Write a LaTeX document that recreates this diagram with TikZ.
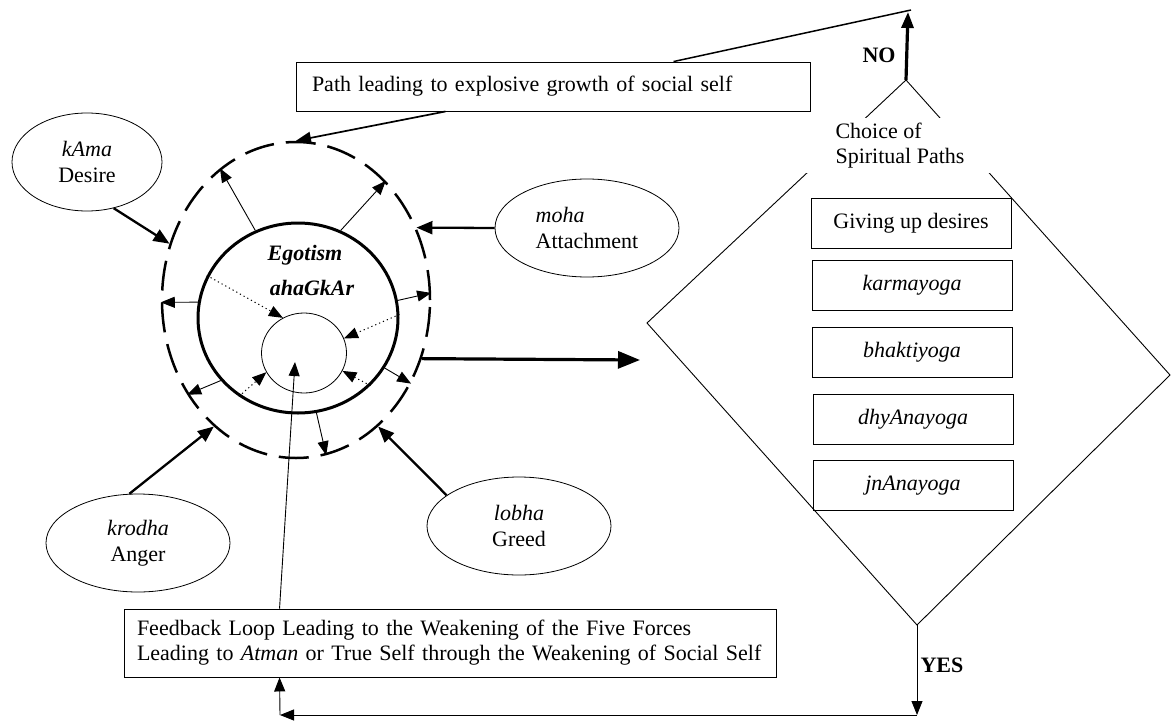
\documentclass[tikz,border=0pt]{standalone}
\usepackage{fontspec}
\setmainfont{Liberation Serif}
\usetikzlibrary{arrows.meta,shapes.geometric}
\begin{document}
\begin{tikzpicture}[x=1pt,y=-1pt,
  every node/.style={font=\fontsize{22}{26}\selectfont},
  force/.style={ellipse,draw,line width=0.8pt,minimum width=184pt,minimum height=98pt,inner sep=0pt,align=center},
  yogabox/.style={draw,line width=0.9pt,minimum width=200pt,minimum height=50pt,inner sep=0pt},
  thinarrow/.style={-{Triangle[length=14pt,width=11pt]},line width=0.9pt},
  dotarrow/.style={-{Triangle[length=14pt,width=11pt]},line width=1pt,dash pattern=on 1.2pt off 3pt},
  forcearrow/.style={-{Triangle[length=16pt,width=13pt]},line width=2.3pt},
  bigarrow/.style={-{Triangle[length=22pt,width=17pt]},line width=3.2pt},
  boldlabel/.style={font=\fontsize{22}{26}\selectfont\bfseries},
]
\useasboundingbox (0,0) rectangle (1172,720);

% circles
\node[ellipse,draw,line width=2.5pt,dash pattern=on 30pt off 12pt,minimum width=268pt,minimum height=316pt,inner sep=0pt] (outer) at (296,300) {};
\node[ellipse,draw,line width=3pt,minimum width=200pt,minimum height=190pt,inner sep=0pt] (ego) at (298,318) {};
\node[ellipse,draw,line width=0.8pt,minimum width=85pt,minimum height=80pt,inner sep=0pt] (inner) at (304,353) {};
\node[font=\fontsize{22}{26}\selectfont\bfseries\itshape] (egotism) at (305,255) {Egotism};
\node[font=\fontsize{22}{26}\selectfont\bfseries\itshape] (ahank) at (312,288) {ahaGkAr};

% five forces
\node[force,minimum width=150pt] (kama) at (87,162) {\textit{kAma}\\Desire};
\node[force,align=left] (moha) at (587,228) {\textit{moha}\\Attachment};
\node[force] (krodha) at (138,543) {\textit{krodha}\\Anger};
\node[force] (lobha) at (519,526) {\textit{lobha}\\Greed};

\draw[forcearrow] (kama.300) -- (outer.156);
\draw[forcearrow] (moha.west) -- (outer.31);
\draw[forcearrow] (krodha.100) -- (outer.237);
\draw[forcearrow] (lobha.157) -- (outer.303);

% outward arrows
\draw[thinarrow] (ego.116) -- (outer.120);
\draw[thinarrow] (ego.64) -- (outer.53);
\draw[thinarrow] (ego.171) -- (outer.181);
\draw[thinarrow] (ego.10) -- (outer.3);
\draw[thinarrow] (ego.219) -- (outer.221);
\draw[thinarrow] (ego.330) -- (outer.324);
\draw[thinarrow] (ego.281) -- (outer.281);

% dotted inward arrows
\draw[dotarrow] (ego.155) -- (inner.121);
\draw[dotarrow] (ego.2) -- (inner.20);
\draw[dotarrow] (ego.233) -- (inner.207);
\draw[dotarrow] (ego.317) -- (inner.335);

% path box
\node[draw,line width=0.9pt,minimum width=514pt,minimum height=49pt,inner xsep=16pt,inner ysep=0pt,text width=482pt,align=left] (path) at (553,86.5) {Path leading to explosive growth of social self};

% diamond
\coordinate (dtop) at (906,80);
\coordinate (dleft) at (647,323);
\coordinate (dbot) at (917,625);
\coordinate (dright) at (1170,375);
\draw[line width=0.9pt] (dtop) -- (dleft) -- (dbot) -- (dright) -- cycle;
\node[fill=white,minimum width=200pt,minimum height=55pt,inner sep=0pt,align=left,font=\fontsize{22}{25}\selectfont] (choice) at (900,145.5) {Choice of\\Spiritual Paths};

\node[yogabox] (give) at (911,223) {Giving up desires};
\node[yogabox] (karma) at (912,285.5) {\textit{karmayoga}};
\node[yogabox] (bhakti) at (912,352.5) {\textit{bhaktiyoga}};
\node[yogabox] (dhyana) at (913,419.5) {\textit{dhyAnayoga}};
\node[yogabox] (jnana) at (913,485.5) {\textit{jnAnayoga}};

% NO branch
\coordinate (notop) at (908,12);
\coordinate (topc) at (911,10);
\draw[-{Triangle[length=16pt,width=12pt]},line width=3.2pt] (dtop) -- (notop);
\draw[line width=1.5pt] (topc) -- ([xshift=378pt]path.north west);
\draw[-{Triangle[length=15pt,width=12pt]},line width=1.7pt] ([xshift=150pt]path.south west) -- (outer.north);
\node[boldlabel] (no) at (879,55) {NO};

% big arrow to diamond
\coordinate (dtip) at (640,360);
\draw[bigarrow] (outer.-25.5) -- (dtip);

% feedback box
\node[draw,line width=0.9pt,minimum width=652pt,minimum height=68pt,inner xsep=13pt,inner ysep=0pt,text width=626pt,align=left,font=\fontsize{22}{25}\selectfont] (fb) at (450,643) {Feedback Loop Leading to the Weakening of the Five Forces\\Leading to \textit{Atman} or True Self through the Weakening of Social Self};
\draw[thinarrow] ([xshift=156pt]fb.north west) -- ([xshift=-9pt,yshift=-9pt]inner.center);

% YES branch
\coordinate (ybot) at (917,715);
\coordinate (lcorner) at (280,715);
\draw[thinarrow] (dbot) -- (ybot);
\draw[thinarrow] (ybot) -- (lcorner);
\draw[thinarrow] (lcorner) -- ([xshift=156pt]fb.south west);
\node[boldlabel] (yes) at (942,665) {YES};
\end{tikzpicture}
\end{document}
